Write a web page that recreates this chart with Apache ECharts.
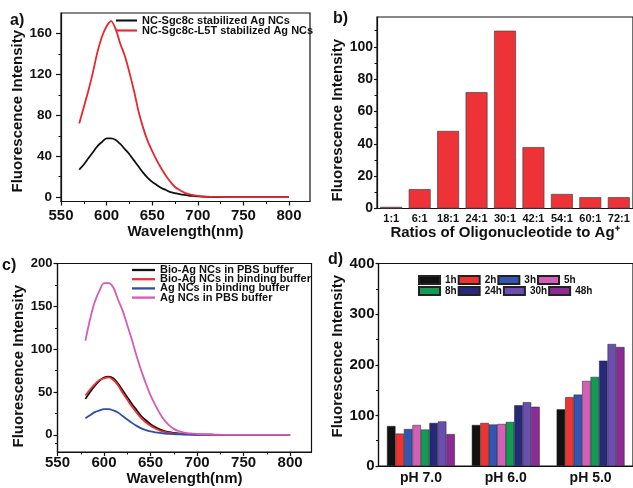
<!DOCTYPE html>
<html>
<head>
<meta charset="UTF-8">
<title>Ag NCs fluorescence</title>
<style>
  * { margin: 0; padding: 0; }
  body { background: #fff; }
  #chart { width: 633px; height: 488px; }
</style>
<script src="https://cdn.jsdelivr.net/npm/echarts@6/dist/echarts.min.js"></script>
</head>
<body>
<div id="chart"></div>
<script>
  // panel a: emission spectra
  const wlA = [570, 575, 580, 585, 590, 595, 600, 605, 610, 615, 620, 625, 630, 635, 640, 645, 650,
    655, 660, 665, 670, 675, 680, 685, 690, 695, 700, 710, 720, 740, 760, 780, 800]
  const sgc8c = [27, 32, 38, 44, 50, 54, 57.5, 57.5, 56, 52, 47, 42, 36, 30, 24, 19, 15,
    12, 9, 7, 5, 4, 3, 2.2, 1.6, 1.2, 0.8, 0.4, 0.2, 0, 0, 0, 0]
  const sgc8cL5T = [72, 88, 104, 122, 142, 157, 167, 172, 164, 150, 138, 122, 104, 84, 68, 55, 45,
    36, 28, 21, 15, 10, 7, 4.5, 3, 2, 1.3, 0.6, 0.3, 0, 0, 0, 0]

  // panel b: ratio screening
  const ratios = ['1:1', '6:1', '18:1', '24:1', '30:1', '42:1', '54:1', '60:1', '72:1']
  const ratioVals = [1, 12, 48, 72, 110, 38, 9, 7, 7]

  // panel c: buffers
  const wlC = [580, 585, 590, 595, 600, 605, 610, 615, 620, 625, 630, 635, 640, 645, 650,
    655, 660, 665, 670, 675, 680, 685, 690, 695, 700, 710, 720, 740, 760, 780, 800]
  const bioPBS = [42, 50, 57, 63, 67, 68, 66, 60, 52, 44, 36, 29, 22, 17, 12.5,
    9, 6.5, 4.5, 3.2, 2.3, 1.6, 1.2, 0.8, 0.6, 0.4, 0.2, 0.1, 0, 0, 0, 0]
  const bioBinding = [46, 53, 59, 64, 66, 67, 64, 58, 49, 41, 33, 26, 19.5, 14.5, 10.5,
    7.5, 5, 3.5, 2.4, 1.6, 1.1, 0.8, 0.6, 0.4, 0.3, 0.2, 0.1, 0, 0, 0, 0]
  const agBinding = [19.5, 23, 26.5, 28.5, 30, 30, 28.5, 26, 22, 18, 14, 10.5, 7.5, 5.5, 4,
    3, 2.2, 1.6, 1.1, 0.8, 0.6, 0.4, 0.3, 0.2, 0.1, 0, 0, 0, 0, 0, 0]
  const agPBS = [110, 135, 155, 168, 177, 177, 172, 158, 145, 128, 111, 92, 75, 60, 46,
    35, 25, 17, 11, 7, 4.5, 3, 2, 1.5, 1, 0.5, 0.2, 0, 0, 0, 0]

  // panel d: pH / time
  const phs = ['pH 7.0', 'pH 6.0', 'pH 5.0']
  const hours = ['1h', '2h', '3h', '5h', '8h', '24h', '30h', '48h']
  const hourColors = ['#111111', '#ee3333', '#3556b0', '#d45fb8', '#149a55', '#26287a', '#6a4fb0', '#8e2a94']
  const h1 = [79, 81, 112]
  const h2 = [64, 85, 136]
  const h3 = [73, 82, 141]
  const h5 = [81, 83, 168]
  const h8 = [72, 87, 176]
  const h24 = [85, 120, 208]
  const h30 = [88, 126, 241]
  const h48 = [63, 117, 235]
  const hourVals = [h1, h2, h3, h5, h8, h24, h30, h48]

  const font = 'Liberation Sans, Arial, sans-serif'
  const ink = '#111'
  const lineIcon = 'path://M0,0H20V2H0Z'

  function pairs(xs, ys) {
    return xs.map((x, i) => [x, ys[i]])
  }

  // main axis with labels + second axis carrying only the small ticks
  function valAxes(grid, min, max, major, minor, o) {
    const main = {
      type: 'value', gridIndex: grid, min: min, max: max, position: o.pos,
      axisLine: { show: true, onZero: false, lineStyle: { color: ink, width: 1.2 } },
      axisTick: { show: true, length: o.tick || 4, customValues: major, lineStyle: { color: ink, width: 1.2 } },
      axisLabel: { customValues: major, margin: o.margin, color: ink, fontSize: o.fs || 13, fontWeight: 'bold', fontFamily: font },
      splitLine: { show: false },
      name: o.name, nameLocation: 'middle', nameGap: o.gap,
      nameTextStyle: { color: ink, fontSize: 15, fontWeight: 'bold', fontFamily: font, padding: o.pad || 0 }
    }
    const small = {
      type: 'value', gridIndex: grid, min: min, max: max, position: o.pos,
      axisLine: { show: false, onZero: false },
      axisTick: { show: true, length: 2.5, customValues: minor, lineStyle: { color: ink, width: 1 } },
      axisLabel: { show: false },
      splitLine: { show: false }
    }
    return [main, small]
  }

  function catAxis(grid, data, o) {
    return {
      type: 'category', gridIndex: grid, data: data, position: 'bottom',
      axisLine: { show: true, lineStyle: { color: ink, width: 1.2 } },
      axisTick: { show: false },
      axisLabel: { margin: o.margin, color: ink, fontSize: o.fs, fontWeight: 'bold', fontFamily: font, interval: 0 },
      name: o.name, nameLocation: 'middle', nameGap: o.gap,
      nameTextStyle: { color: ink, fontSize: 15, fontWeight: 'bold', fontFamily: font }
    }
  }

  const xA = valAxes(0, 550, 823, [550, 600, 650, 700, 750, 800], [575, 625, 675, 725, 775],
    { pos: 'bottom', margin: 7, tick: 4, fs: 15, name: 'Wavelength(nm)', gap: 23 })
  const yA = valAxes(0, -4.2, 180, [0, 40, 80, 120, 160], [20, 60, 100, 140],
    { pos: 'left', margin: 9, tick: 5, fs: 13.5, name: 'Fluorescence Intensity', gap: 35, pad: [0, 8, 0, 0] })
  const xB = catAxis(1, ratios, { margin: 5, fs: 11, name: 'Ratios of Oligonucleotide to Ag\u207A', gap: 16 })
  const yB = valAxes(1, 0, 118.5, [0, 20, 40, 60, 80, 100], [10, 30, 50, 70, 90, 110],
    { pos: 'left', margin: 4, tick: 3, fs: 14, name: 'Fluorescence Intensity', gap: 30, pad: [0, 15, 0, 0] })
  const xC = valAxes(2, 550, 823, [550, 600, 650, 700, 750, 800], [575, 625, 675, 725, 775],
    { pos: 'bottom', margin: 3.5, tick: 4, fs: 15, name: 'Wavelength(nm)', gap: 17 })
  const yC = valAxes(2, -20, 200, [0, 50, 100, 150, 200], [-10, 25, 75, 125, 175],
    { pos: 'left', margin: 5, tick: 4, fs: 13, name: 'Fluorescence Intensity', gap: 31, pad: [0, 17, 0, 0] })
  const xD = catAxis(3, phs, { margin: 5, fs: 14 })
  const yD = valAxes(3, 0, 400, [0, 100, 200, 300, 400], [50, 150, 250, 350],
    { pos: 'left', margin: 4, tick: 3, fs: 15, name: 'Fluorescence Intensity', gap: 33, pad: [0, 0, 0, 17] })

  const gridStyle = { show: true, borderColor: ink, borderWidth: 1.2, containLabel: false }

  function line(name, xs, ys, color, xi, yi) {
    return {
      name: name, type: 'line', xAxisIndex: xi, yAxisIndex: yi,
      data: pairs(xs, ys), symbol: 'none', smooth: 0.3,
      lineStyle: { color: color, width: 1.8 }, itemStyle: { color: color }
    }
  }

  const series = [
    line('NC-Sgc8c stabilized Ag NCs', wlA, sgc8c, '#111111', 0, 0),
    line('NC-Sgc8c-L5T stabilized Ag NCs', wlA, sgc8cL5T, '#e8262b', 0, 0),
    {
      type: 'bar', xAxisIndex: 2, yAxisIndex: 2, data: ratioVals, barCategoryGap: '23%',
      itemStyle: { color: '#ee3338', borderColor: '#444', borderWidth: 0.7 }
    },
    line('Bio-Ag NCs in PBS buffer', wlC, bioPBS, '#111111', 3, 4),
    line('Bio-Ag NCs in binding buffer', wlC, bioBinding, '#ee3030', 3, 4),
    line('Ag NCs in binding buffer', wlC, agBinding, '#2e4fa8', 3, 4),
    line('Ag NCs in PBS buffer', wlC, agPBS, '#d65bb5', 3, 4)
  ]
  hours.forEach((h, i) => {
    series.push({
      name: h, type: 'bar', xAxisIndex: 5, yAxisIndex: 6, data: hourVals[i],
      barGap: '0%', barCategoryGap: '20%',
      itemStyle: { color: hourColors[i], borderColor: '#222', borderWidth: 0.5 }
    })
  })

  const legText = { color: ink, fontWeight: 'bold', fontFamily: font }

  const option = {
    animation: false,
    backgroundColor: '#fff',
    grid: [
      Object.assign({ left: 61, top: 13, width: 249, height: 188.5 }, gridStyle),
      Object.assign({ left: 377, top: 17, width: 256, height: 191.5 }, gridStyle),
      Object.assign({ left: 57.5, top: 263.5, width: 254, height: 188.5 }, gridStyle),
      Object.assign({ left: 378.5, top: 263.5, width: 258, height: 202.5 }, gridStyle)
    ],
    xAxis: [xA[0], xA[1], xB, xC[0], xC[1], xD],
    yAxis: [yA[0], yA[1], yB[0], yB[1], yC[0], yC[1], yD[0], yD[1]],
    legend: [
      {
        data: ['NC-Sgc8c stabilized Ag NCs', 'NC-Sgc8c-L5T stabilized Ag NCs'],
        orient: 'vertical', left: 116, top: 15, padding: 0, itemGap: -1,
        icon: lineIcon, itemWidth: 21, itemHeight: 10,
        textStyle: Object.assign({ fontSize: 11, lineHeight: 10 }, legText)
      },
      {
        data: ['Bio-Ag NCs in PBS buffer', 'Bio-Ag NCs in binding buffer', 'Ag NCs in binding buffer', 'Ag NCs in PBS buffer'],
        orient: 'vertical', left: 132, top: 264.5, padding: 0, itemGap: -1.8,
        icon: lineIcon, itemWidth: 23, itemHeight: 9.3,
        textStyle: Object.assign({ fontSize: 11, lineHeight: 9.3 }, legText)
      },
      {
        data: hours.slice(0, 4), icon: 'rect', left: 418, top: 275, padding: 0, itemGap: 1,
        itemWidth: 21, itemHeight: 8,
        textStyle: Object.assign({ fontSize: 10, lineHeight: 8 }, legText)
      },
      {
        data: hours.slice(4), icon: 'rect', left: 418, top: 286, padding: 0, itemGap: 1,
        itemWidth: 21, itemHeight: 8,
        textStyle: Object.assign({ fontSize: 10, lineHeight: 8 }, legText)
      }
    ],
    graphic: [
      { type: 'text', left: 10, top: 13, style: { text: 'a)', fill: ink, font: 'bold 16px ' + font } },
      { type: 'text', left: 333, top: 11, style: { text: 'b)', fill: ink, font: 'bold 16px ' + font } },
      { type: 'text', left: 2, top: 258, style: { text: 'c)', fill: ink, font: 'bold 16px ' + font } },
      { type: 'text', left: 328, top: 252, style: { text: 'd)', fill: ink, font: 'bold 16px ' + font } }
    ],
    series: series
  }

  const chart = echarts.init(document.getElementById('chart'))
  chart.setOption(option)
</script>
</body>
</html>
